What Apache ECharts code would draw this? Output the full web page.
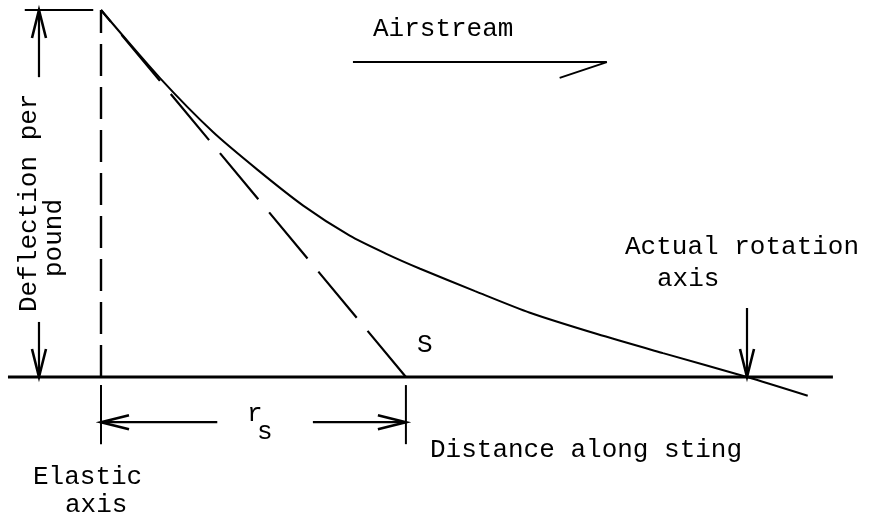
<!DOCTYPE html>
<html><head><meta charset="utf-8">
<script src="https://cdn.jsdelivr.net/npm/echarts@6/dist/echarts.min.js"></script>
<style>html,body{margin:0;padding:0;background:#fff}#c{width:871px;height:518px}</style>
</head><body><div id="c"></div>
<script>
// ---- Diagram data (units: distance along sting, deflection per pound) ----
const curveDistance   = [0, 0.91, 1.73, 2.42, 3.13, 3.85, 4.40, 4.94, 5.79, 6.64, 7.68, 8.70, 10.0, 10.94];
const curveDeflection = [10, 8.15, 6.68, 5.65, 4.67, 3.85, 3.37, 2.95, 2.34, 1.75, 1.17, 0.65, 0.0, -0.51];
const elasticAxisX = 0;
const topDeflection = 10;
const sPointX = 4.72;          // S: where the initial tangent meets the sting
const rotationAxisX = 10;      // actual rotation axis
const baselineRange = [-1.44, 11.33];
const topLineRange = [-1.18, -0.12];
const deflDimX = -0.96;
const deflDimArrows = [[8.17, topDeflection], [1.50, 0]];   // [from, tip]
const rsDimY = -1.23;
const rsTickRange = [-0.22, -1.83];
const rsArrowSegments = [[1.80, 0], [3.28, sPointX]];        // [from, tip]
const rotationArrowFrom = 1.88;
const airstreamX = [3.90, 7.83];
const airstreamY = 8.58;
const airstreamBarb = [7.10, 8.15];

const FONT = "'Liberation Mono', 'DejaVu Sans Mono', monospace";
const BLACK = '#000';

const curveData = curveDistance.map((x, i) => [x, curveDeflection[i]]);

// arrows: [x1,y1,x2,y2] with head at (x2,y2)
const arrowData = [];
deflDimArrows.forEach(a => arrowData.push([deflDimX, a[0], deflDimX, a[1]]));
rsArrowSegments.forEach(a => arrowData.push([a[0], rsDimY, a[1], rsDimY]));
arrowData.push([rotationAxisX, rotationArrowFrom, rotationAxisX, 0]);

function renderArrow(params, api) {
  const p1 = api.coord([api.value(0), api.value(1)]);
  const p2 = api.coord([api.value(2), api.value(3)]);
  let dx = p2[0] - p1[0], dy = p2[1] - p1[1];
  const L = Math.sqrt(dx * dx + dy * dy) || 1;
  dx /= L; dy /= L;
  const len = 28, hw = 7;
  const nx = -dy, ny = dx;
  const b = [p2[0] - dx * len, p2[1] - dy * len];
  return {
    type: 'group',
    children: [
      { type: 'line', shape: { x1: p1[0], y1: p1[1], x2: p2[0], y2: p2[1] },
        style: { stroke: BLACK, lineWidth: 2.2 } },
      { type: 'polyline', shape: { points: [[b[0] + nx * hw, b[1] + ny * hw], p2, [b[0] - nx * hw, b[1] - ny * hw]] },
        style: { stroke: BLACK, lineWidth: 2.6, fill: null } }
    ]
  };
}

const chart = echarts.init(document.getElementById('c'), null, { renderer: 'canvas' });

function lineSeries(data, width, dash, smooth) {
  return {
    type: 'line', data: data, clip: false, showSymbol: false, symbol: 'none',
    smooth: smooth || false, silent: true, animation: false,
    lineStyle: { color: BLACK, width: width, type: dash || 'solid' }
  };
}

const txt = (text, x, y, extra) => Object.assign({
  type: 'text', x: x, y: y, silent: true,
  style: { text: text, font: '26px ' + FONT, fill: BLACK, textAlign: 'left', textVerticalAlign: 'middle' }
}, extra || {});

chart.setOption({
  backgroundColor: '#fff',
  animation: false,
  grid: { left: 4.1, right: 1.26, top: 10, bottom: 67.6 },
  xAxis: { type: 'value', min: -1.5, max: 11.9, show: false },
  yAxis: { type: 'value', min: -2, max: 10, show: false },
  series: [
    // sting baseline
    lineSeries([[baselineRange[0], 0], [baselineRange[1], 0]], 3),
    // elastic axis (dashed)
    lineSeries([[elasticAxisX, 0], [elasticAxisX, topDeflection]], 2.4, [32, 11]),
    // initial tangent (long dashes), drawn from S upward
    lineSeries([[sPointX, 0], [elasticAxisX, topDeflection]], 2.2, [60, 17]),
    // deflection curve
    lineSeries(curveData, 2, null, 0.25),
    // top reference line
    lineSeries([[topLineRange[0], topDeflection], [topLineRange[1], topDeflection]], 2),
    // r_s extension ticks
    lineSeries([[elasticAxisX, rsTickRange[0]], [elasticAxisX, rsTickRange[1]]], 2),
    lineSeries([[sPointX, rsTickRange[0]], [sPointX, rsTickRange[1]]], 2),
    // airstream arrow with half head
    lineSeries([[airstreamX[0], airstreamY], [airstreamX[1], airstreamY], airstreamBarb], 2),
    // dimension arrows
    { type: 'custom', clip: false, silent: true, renderItem: renderArrow, data: arrowData,
      encode: { x: [0, 2], y: [1, 3] } }
  ],
  graphic: [
    txt('Airstream', 373, 29),
    txt('S', 417, 345),
    txt('Actual rotation', 625, 247),
    txt('axis', 657, 279),
    txt('r', 247, 414),
    txt('s', 257, 432),
    txt('Distance along sting', 430, 450),
    txt('Elastic', 33, 477),
    txt('axis', 65, 505),
    txt('Deflection per', 29, 312, { rotation: Math.PI / 2 }),
    txt('pound', 54, 277, { rotation: Math.PI / 2 })
  ]
});
</script>
</body></html>
